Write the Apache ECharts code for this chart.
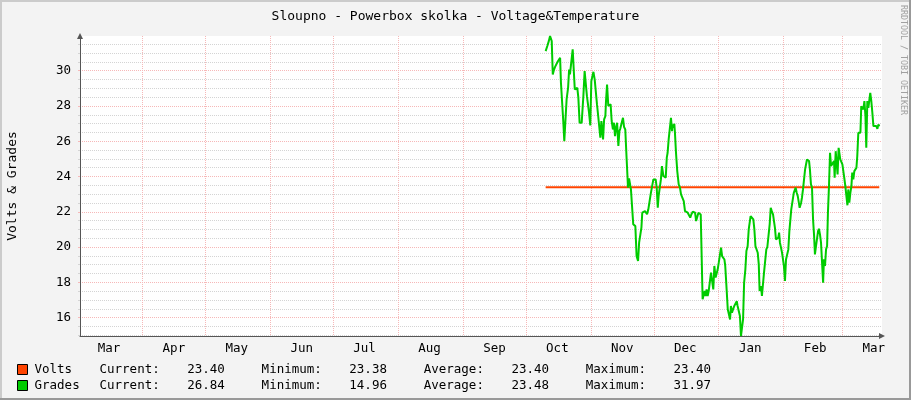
<!DOCTYPE html>
<html>
<head>
<meta charset="utf-8">
<title>Sloupno - Powerbox skolka</title>
<script src="https://cdn.jsdelivr.net/npm/echarts@6/dist/echarts.min.js"></script>
<style>
    html, body { margin: 0; padding: 0; background: #f3f3f3; }
    #main { width: 911px; height: 400px; }
</style>
</head>
<body>
<div id="main"></div>
<script>
//数据 (days counted from 1 Apr 2010)
var viewDays = [-29.8, 352.9];
var yRange = [14.96, 31.97];
var yTicks = [16, 18, 20, 22, 24, 26, 28, 30];
var monthNames = ['Jan', 'Feb', 'Mar', 'Apr', 'May', 'Jun', 'Jul', 'Aug', 'Sep', 'Oct', 'Nov', 'Dec'];

var voltDays = [192.4, 351.6];
var volts = [23.40, 23.40];

var gradeDays = [
    192.4, 193.2, 193.9, 194.5, 195.3, 195.8, 196.4, 196.9, 197.7, 198.1, 198.8, 199.3, 199.7, 200.4, 200.8,
    201.3, 202.0, 202.4, 203.1, 203.6, 204.0, 204.5, 205.3, 205.8, 206.3, 206.9, 207.5, 208.0, 208.6, 209.6,
    210.4, 211.0, 211.5, 212.1, 213.1, 213.7, 214.2, 214.7, 215.2, 215.8, 216.3, 216.9, 217.4, 218.0, 218.5,
    219.0, 219.3, 219.8, 220.3, 220.9, 221.2, 221.7, 222.3, 222.8, 223.4, 223.9, 224.5, 225.0, 225.5, 226.0,
    226.5, 227.1, 227.6, 228.0, 228.7, 229.3, 229.8, 230.4, 230.9, 231.4, 231.7, 232.2, 232.7, 233.1, 233.8,
    234.2, 235.2, 235.8, 236.5, 237.0, 237.6, 238.1, 238.5, 239.2, 239.8, 240.3, 240.8, 241.4, 241.9, 242.5,
    243.2, 243.8, 244.4, 244.9, 245.4, 245.9, 246.3, 247.0, 247.4, 247.9, 248.6, 249.0, 249.7, 250.2, 250.6,
    251.1, 251.7, 252.2, 252.7, 253.0, 253.3, 253.8, 254.1, 254.6, 255.2, 255.9, 256.5, 257.0, 257.6, 258.3,
    258.9, 259.5, 260.2, 260.8, 261.4, 261.9, 262.6, 263.0, 263.7, 264.2, 264.8, 265.3, 265.9, 266.4, 266.7,
    267.3, 267.8, 268.3, 268.8, 269.2, 269.7, 270.2, 270.7, 271.3, 271.9, 272.4, 272.9, 273.5, 274.0, 274.5,
    275.0, 275.6, 276.1, 276.6, 277.2, 277.7, 278.1, 278.8, 279.3, 279.9, 280.4, 280.8, 281.3, 282.0, 282.4,
    283.1, 283.6, 284.0, 284.7, 285.1, 285.6, 286.1, 286.6, 287.1, 287.7, 288.2, 288.8, 289.3, 289.8, 290.2,
    290.9, 291.5, 292.0, 292.5, 293.1, 293.6, 294.1, 294.5, 295.2, 295.6, 296.1, 296.6, 297.2, 297.7, 298.2,
    298.8, 299.3, 299.8, 300.3, 300.9, 301.4, 301.8, 302.3, 303.0, 303.4, 303.8, 304.2, 304.7, 305.2, 305.7,
    306.1, 306.6, 307.1, 307.7, 308.2, 308.7, 309.2, 309.6, 310.1, 310.8, 311.2, 311.7, 312.2, 312.7, 313.1,
    313.6, 314.3, 314.7, 315.2, 315.7, 316.2, 316.6, 317.1, 317.6, 318.1, 318.5, 319.0, 319.5, 320.0, 320.5,
    320.9, 321.4, 321.9, 322.4, 322.8, 323.3, 323.8, 324.3, 324.8, 325.2, 325.7, 326.2, 326.7, 327.1, 327.6,
    328.1, 328.6, 329.0, 329.5, 330.0, 330.3, 330.8, 331.3, 331.7, 332.2, 332.7, 333.0, 333.5, 334.0, 334.5,
    334.9, 335.4, 335.9, 336.4, 336.8, 337.3, 337.8, 338.3, 338.7, 339.2, 339.7, 340.2, 340.7, 341.1, 341.6,
    342.1, 342.6, 343.0, 343.5, 344.0, 344.5, 345.0, 345.4, 345.9, 346.4, 346.9, 347.3, 347.8, 348.3, 348.8,
    349.2, 349.7, 350.2, 350.7, 351.2, 351.6
];
var grades = [
    31.11, 31.40, 31.68, 31.97, 31.68, 29.79, 30.07, 30.22, 30.22, 30.51, 30.51, 30.73, 29.32, 29.22, 27.15,
    26.01, 26.01, 28.37, 29.03, 30.07, 29.79, 29.88, 31.21, 30.07, 28.94, 28.85, 29.03, 28.47, 27.05, 27.05,
    28.56, 29.98, 29.98, 28.56, 27.62, 26.90, 29.41, 29.51, 29.94, 29.51, 29.47, 28.09, 27.52, 27.43, 26.20,
    27.15, 27.24, 26.11, 27.24, 27.43, 28.28, 29.22, 28.00, 28.09, 28.09, 27.15, 26.67, 27.05, 26.29, 26.77,
    27.05, 25.73, 26.58, 26.71, 27.05, 27.33, 26.82, 26.67, 25.35, 25.26, 23.37, 23.90, 23.84, 23.27, 23.18,
    21.29, 21.19, 19.49, 19.21, 20.25, 20.34, 21.10, 21.95, 21.95, 22.04, 22.14, 21.86, 22.14, 22.14, 22.99,
    22.99, 23.84, 23.93, 23.84, 23.37, 22.23, 22.89, 22.99, 23.84, 24.59, 24.03, 23.93, 23.93, 25.07, 25.35,
    26.11, 26.11, 27.33, 26.58, 26.96, 26.77, 26.99, 26.48, 25.35, 24.31, 23.55, 23.37, 22.99, 22.89, 22.61,
    22.04, 21.95, 21.95, 21.85, 21.67, 21.85, 22.01, 21.99, 21.95, 21.48, 21.38, 21.95, 21.99, 21.85, 20.25,
    17.04, 17.04, 17.51, 17.22, 17.60, 17.22, 17.51, 17.51, 18.55, 18.64, 17.60, 18.93, 18.27, 18.17, 18.74,
    19.12, 19.59, 19.97, 19.49, 19.49, 19.30, 18.93, 17.51, 16.47, 16.38, 15.90, 16.66, 16.28, 16.28, 16.66,
    16.75, 16.94, 16.66, 16.75, 16.09, 14.96, 15.05, 15.90, 17.98, 18.74, 19.78, 20.06, 21.00, 21.10, 21.76,
    21.80, 21.57, 21.00, 20.06, 19.97, 19.68, 19.02, 17.51, 17.79, 17.23, 17.32, 18.55, 18.64, 19.87, 20.02,
    20.06, 21.29, 22.23, 22.04, 21.86, 21.86, 21.10, 20.44, 20.34, 20.53, 20.82, 20.25, 19.97, 19.68, 19.68,
    18.93, 18.08, 19.30, 19.21, 19.87, 20.91, 21.00, 22.14, 22.52, 23.08, 23.18, 23.37, 23.08, 22.89, 22.61,
    22.23, 22.52, 22.80, 23.27, 23.84, 24.41, 24.50, 24.97, 25.07, 24.88, 24.41, 23.56, 23.37, 21.57, 20.63,
    19.59, 20.06, 20.06, 20.91, 21.04, 20.72, 20.25, 20.16, 17.98, 19.31, 18.93, 19.87, 20.06, 21.95, 23.46,
    25.35, 24.60, 24.50, 24.69, 24.88, 23.93, 25.44, 25.54, 24.12, 25.63, 25.73, 24.97, 24.97, 24.69, 24.60,
    23.93, 23.46, 23.46, 22.37, 23.27, 22.52, 23.08, 23.46, 24.22, 23.84, 24.31, 24.41, 24.50, 25.16, 26.48,
    26.39, 26.48, 27.99, 27.99, 27.81, 28.28, 27.43, 25.63, 28.28, 27.90, 28.37, 28.75, 28.28, 27.62, 26.86,
    26.86, 26.86, 26.86, 26.71, 26.96, 26.84
];

// Current, Minimum, Average, Maximum
var voltStats = [23.40, 23.38, 23.40, 23.40];
var gradeStats = [26.84, 14.96, 23.48, 31.97];

var FONT = 'DejaVu Sans Mono';
var DAY = 86400000;
var startTime = new Date(2010, 3, 1).getTime();

function dayOf(date) {
    return Math.round((date.getTime() - startTime) / DAY);
}
function pairs(days, vals) {
    return days.map(function (d, i) { return [d, vals[i]]; });
}

//月份网格和标签
var monthStarts = [];
for (var m = 3; m <= 14; m++) {
    monthStarts.push(dayOf(new Date(2010, m, 1)));
}
var monthLabels = [];
for (var m = 2; m <= 14; m++) {
    monthLabels.push(dayOf(new Date(2010, m, 16)));
}
var minorTicks = [];
for (var v = 15; v <= 31.5; v += 0.5) {
    if (yTicks.indexOf(v) < 0) minorTicks.push(v);
}

var MajorGrid = '#f6b8b8';
var MinorGrid = '#d4d4d4';
var AxisColor = '#555555';

var chart = echarts.init(document.getElementById('main'));
var option = {
    backgroundColor: '#f3f3f3',
    animation: false,
    textStyle: { fontFamily: FONT },
    title: {
        text: 'Sloupno - Powerbox skolka - Voltage&Temperature',
        left: 'center',
        top: 5,
        textStyle: { fontFamily: FONT, fontSize: 13, fontWeight: 'normal', color: '#000' }
    },
    grid: {
        left: 80, right: 29, top: 36, bottom: 64,
        outerBoundsMode: 'none',
        containLabel: false,
        show: true,
        backgroundColor: '#ffffff',
        borderWidth: 0
    },
    legend: {
        data: ['Volts', 'Grades'],
        orient: 'vertical',
        left: 17,
        top: 363,
        padding: 0,
        itemWidth: 10,
        itemHeight: 10,
        itemGap: 3,
        icon: 'rect',
        selectedMode: false,
        itemStyle: { borderColor: '#000', borderWidth: 1 },
        textStyle: {
            fontFamily: FONT,
            fontSize: 12.5,
            color: '#000',
            rich: {
                n: { fontFamily: FONT, fontSize: 12.5, width: 65, padding: [0, 0, 0, 2], lineHeight: 13 },
                l: { fontFamily: FONT, fontSize: 12.5, width: 87.7, lineHeight: 13 },
                v: { fontFamily: FONT, fontSize: 12.5, width: 74.4, lineHeight: 13 }
            }
        },
        formatter: function (name) {
            var s = name === 'Volts' ? voltStats : gradeStats;
            return '{n|' + name + '}' +
                '{l|Current:}{v|' + s[0].toFixed(2) + '}' +
                '{l|Minimum:}{v|' + s[1].toFixed(2) + '}' +
                '{l|Average:}{v|' + s[2].toFixed(2) + '}' +
                '{l|Maximum:}{v|' + s[3].toFixed(2) + '}';
        }
    },
    xAxis: {
        type: 'value',
        min: viewDays[0],
        max: viewDays[1],
        axisLine: {
            onZero: false,
            lineStyle: { color: AxisColor },
            symbol: ['none', 'triangle'],
            symbolSize: [6, 6]
        },
        axisTick: { show: false, customValues: monthStarts },
        splitLine: {
            show: true,
            customValues: monthStarts,
            lineStyle: { color: MajorGrid, type: [1, 1], width: 1 }
        },
        axisLabel: {
            customValues: monthLabels,
            margin: 6,
            color: '#000',
            fontFamily: FONT,
            fontSize: 12.5,
            formatter: function (value) {
                return monthNames[new Date(startTime + value * DAY).getMonth()];
            }
        }
    },
    yAxis: [
        {
            type: 'value',
            min: yRange[0],
            max: yRange[1],
            axisLine: {
                show: true,
                onZero: false,
                lineStyle: { color: AxisColor },
                symbol: ['none', 'triangle'],
                symbolSize: [6, 6]
            },
            axisTick: { show: true, length: 2, customValues: minorTicks, lineStyle: { color: MinorGrid } },
            axisLabel: { show: false },
            splitLine: {
                show: true,
                customValues: minorTicks,
                lineStyle: { color: MinorGrid, type: [1, 1], width: 1 }
            }
        },
        {
            type: 'value',
            min: yRange[0],
            max: yRange[1],
            position: 'left',
            name: 'Volts & Grades',
            nameLocation: 'middle',
            nameRotate: 90,
            nameGap: 61,
            nameTextStyle: { fontFamily: FONT, fontSize: 13, color: '#000' },
            axisLine: { show: false, onZero: false },
            axisTick: { show: true, length: 2, customValues: yTicks, lineStyle: { color: MajorGrid } },
            axisLabel: {
                customValues: yTicks,
                margin: 9,
                color: '#000',
                fontFamily: FONT,
                fontSize: 12.5
            },
            splitLine: {
                show: true,
                customValues: yTicks,
                lineStyle: { color: MajorGrid, type: [1, 1], width: 1 }
            }
        }
    ],
    graphic: [
        { type: 'rect', silent: true, shape: { x: 0, y: 0, width: 911, height: 2 }, style: { fill: '#cbcbcb' } },
        { type: 'rect', silent: true, shape: { x: 0, y: 0, width: 2, height: 400 }, style: { fill: '#cbcbcb' } },
        { type: 'rect', silent: true, shape: { x: 0, y: 398, width: 911, height: 2 }, style: { fill: '#999999' } },
        { type: 'rect', silent: true, shape: { x: 909, y: 0, width: 2, height: 400 }, style: { fill: '#999999' } },
        {
            type: 'text',
            silent: true,
            x: 903,
            y: 5,
            rotation: -Math.PI / 2,
            style: {
                text: 'RRDTOOL / TOBI OETIKER',
                fill: '#a0a0a0',
                font: '8.3px "DejaVu Sans Mono"',
                textAlign: 'left',
                textVerticalAlign: 'middle'
            }
        }
    ],
    series: [
        {
            name: 'Volts',
            type: 'line',
            yAxisIndex: 0,
            data: pairs(voltDays, volts),
            symbol: 'none',
            lineStyle: { color: '#ff4400', width: 2 },
            itemStyle: { color: '#ff4400' }
        },
        {
            name: 'Grades',
            type: 'line',
            yAxisIndex: 0,
            data: pairs(gradeDays, grades),
            symbol: 'none',
            lineStyle: { color: '#00cc00', width: 2 },
            itemStyle: { color: '#00cc00' }
        }
    ]
};
chart.setOption(option);
</script>
</body>
</html>
